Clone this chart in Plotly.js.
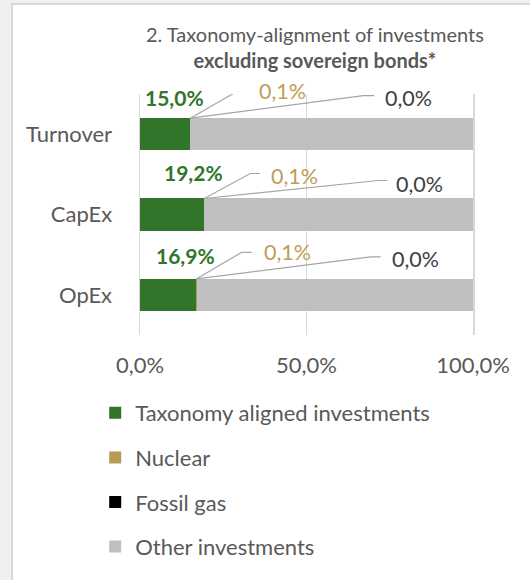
<!DOCTYPE html>
<html>
<head>
<meta charset="utf-8">
<script src="https://cdn.plot.ly/plotly-3.0.1.min.js"></script>
<style>
  html, body { margin: 0; padding: 0; background: #f0f0f0; width: 530px; height: 580px; overflow: hidden; }
  #frame { position: absolute; left: 11px; top: 3px; border-left: 2px solid #d9d9d9; border-top: 2px solid #d9d9d9; background: #fff; }
  #chart { width: 517px; height: 575px; }
</style>
</head>
<body>
<div id="frame"><div id="chart"></div></div>
<script>
// ---- data ----
const categories = ['Turnover', 'CapEx', 'OpEx'];
const seriesNames = ['Taxonomy aligned investments', 'Nuclear', 'Fossil gas', 'Other investments'];
const aligned = [15.0, 19.2, 16.9];
const nuclear = [0.1, 0.1, 0.1];
const fossilGas = [0.0, 0.0, 0.0];
const other = [84.9, 80.7, 83.0];
const xTickVals = [0, 50, 100];
const titleLines = ['2. Taxonomy-alignment of investments', 'excluding sovereign bonds*'];

// ---- styles ----
const FONT = 'Lato, "Open Sans", sans-serif';
const TEXT = '#595959';
const colors = ['#31752b', '#b99a55', '#000000', '#bfbfbf'];
const labelColors = { aligned: '#31752b', nuclear: '#bf9d55', fossil: '#404040' };
const LEADER = '#a6a6a6';
const GRID = '#d9d9d9';
const LABEL_SIZE = 21.5;
const BOLD_LABEL_SIZE = 21;
const AXIS_SIZE = 22;

// label placement offsets (px) relative to bar end / category centre, per category
const place = [
  { g: [16, 37], n: [48, 43.5, 59, 67, 43], f: [173, 38.5, 184, 193, 36.5] },
  { g: [21, 42], n: [46, 41, 56, 65, 38.5], f: [174, 34, 183, 190, 31] },
  { g: [21, 39], n: [45, 42.5, 55, 65, 42.5], f: [174, 38, 184, 193, 35.5] }
];
const HALF_BAR = 16;

const values = [aligned, nuclear, fossilGas, other];
const traces = values.map((v, i) => ({
  type: 'bar',
  orientation: 'h',
  name: seriesNames[i],
  y: categories,
  x: v,
  marker: { color: colors[i], line: { width: 0 } },
  legendgroup: 'g' + i,
  hoverinfo: 'skip'
}));

const fmt = v => v.toFixed(1).replace('.', ',') + '%';

const annotations = [];
const shapes = [];
categories.forEach((c, i) => {
  const endAligned = aligned[i];
  const endNuc = aligned[i] + nuclear[i];
  const p = place[i];
  annotations.push({
    xref: 'x', yref: 'y', x: endAligned, y: c, showarrow: false,
    text: '<b>' + fmt(aligned[i]) + '</b>', xanchor: 'right', yanchor: 'middle',
    xshift: p.g[0], yshift: p.g[1],
    font: { family: FONT, size: BOLD_LABEL_SIZE, color: labelColors.aligned }
  });
  annotations.push({
    xref: 'x', yref: 'y', x: endNuc, y: c, showarrow: false,
    text: fmt(nuclear[i]), xanchor: 'left', yanchor: 'middle',
    xshift: p.n[3], yshift: p.n[4],
    font: { family: FONT, size: LABEL_SIZE, color: labelColors.nuclear }
  });
  annotations.push({
    xref: 'x', yref: 'y', x: endNuc + fossilGas[i], y: c, showarrow: false,
    text: fmt(fossilGas[i]), xanchor: 'left', yanchor: 'middle',
    xshift: p.f[3], yshift: p.f[4],
    font: { family: FONT, size: LABEL_SIZE, color: labelColors.fossil }
  });
  [[p.n, endNuc], [p.f, endNuc + fossilGas[i]]].forEach(([o, xe]) => {
    shapes.push({
      type: 'path', xref: 'x', yref: 'y',
      xsizemode: 'pixel', ysizemode: 'pixel',
      xanchor: xe, yanchor: i,
      path: `M0,${HALF_BAR} L${o[0]},${o[1]} L${o[2]},${o[1]}`,
      line: { color: LEADER, width: 1.2 }
    });
  });
});

const layout = {
  width: 517, height: 575,
  paper_bgcolor: '#ffffff', plot_bgcolor: '#ffffff',
  separators: ',.',
  font: { family: FONT, color: TEXT },
  margin: { l: 127, r: 57, t: 89, b: 244.5, pad: 0, autoexpand: false },
  title: {
    text: titleLines[0] + '<br><b>' + titleLines[1] + '</b>',
    font: { family: FONT, size: 20, color: TEXT },
    xref: 'container', x: 0.584, xanchor: 'center',
    yref: 'container', y: 0.936, yanchor: 'top'
  },
  barmode: 'stack',
  bargap: 0.6,
  xaxis: {
    range: [0, 100], tickmode: 'array', tickvals: xTickVals, ticktext: xTickVals.map(fmt),
    showgrid: true, gridcolor: GRID, gridwidth: 1.5, zeroline: false,
    showline: false, ticks: '', ticklabelstandoff: 15, tickangle: 0, automargin: false,
    tickfont: { family: FONT, size: AXIS_SIZE, color: TEXT }, fixedrange: true
  },
  yaxis: {
    type: 'category', range: [2.5, -0.5], autorange: false,
    showgrid: false, zeroline: false,
    showline: true, mirror: true, linecolor: GRID, linewidth: 1.5, layer: 'below traces',
    ticks: '', ticklabelstandoff: 22, automargin: false,
    tickfont: { family: FONT, size: AXIS_SIZE, color: TEXT }, fixedrange: true
  },
  showlegend: true,
  legend: {
    xref: 'container', yref: 'container',
    x: 0.159, y: 0.327, xanchor: 'left', yanchor: 'top',
    traceorder: 'grouped', tracegroupgap: 13,
    font: { family: FONT, size: AXIS_SIZE, color: TEXT },
    bgcolor: 'rgba(0,0,0,0)', borderwidth: 0
  },
  annotations: annotations,
  shapes: shapes
};

Plotly.newPlot('chart', traces, layout, { staticPlot: true, displayModeBar: false });
</script>
</body>
</html>
